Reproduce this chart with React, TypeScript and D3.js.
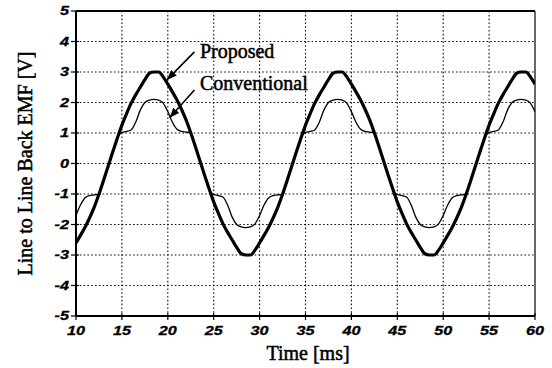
import * as d3 from "d3";
import { useEffect, useRef } from "react";

// sample times [ms], every 0.5 ms
const times = d3.range(10, 60.25, 0.5);

// Proposed back EMF [V]
const proposed = [
  -2.6, -2.35, -2.08, -1.77, -1.42, -1.01, -0.56, -0.09, 0.38, 0.83,
  1.26, 1.63, 1.97, 2.25, 2.5, 2.75, 2.96, 3.0, 3.0, 2.84,
  2.6, 2.35, 2.08, 1.77, 1.42, 1.01, 0.56, 0.09, -0.38, -0.83,
  -1.26, -1.63, -1.97, -2.25, -2.5, -2.75, -2.96, -3.0, -3.0, -2.84,
  -2.6, -2.35, -2.08, -1.77, -1.42, -1.01, -0.56, -0.09, 0.38, 0.83,
  1.26, 1.63, 1.97, 2.25, 2.5, 2.75, 2.96, 3.0, 3.0, 2.84,
  2.6, 2.35, 2.08, 1.77, 1.42, 1.01, 0.56, 0.09, -0.38, -0.83,
  -1.26, -1.63, -1.97, -2.25, -2.5, -2.75, -2.96, -3.0, -3.0, -2.84,
  -2.6, -2.35, -2.08, -1.77, -1.42, -1.01, -0.56, -0.09, 0.38, 0.83,
  1.26, 1.63, 1.97, 2.25, 2.5, 2.75, 2.96, 3.0, 3.0, 2.84,
  2.6,
];

// Conventional back EMF [V]
const conventional = [
  -1.7, -1.35, -1.12, -1.05, -1.03, -1.0, -0.56, -0.09, 0.38, 0.85,
  1.02, 1.05, 1.1, 1.35, 1.75, 2.0, 2.08, 2.1, 2.08, 1.98,
  1.7, 1.35, 1.12, 1.05, 1.03, 1.0, 0.56, 0.09, -0.38, -0.85,
  -1.02, -1.05, -1.1, -1.35, -1.75, -2.0, -2.08, -2.1, -2.08, -1.98,
  -1.7, -1.35, -1.12, -1.05, -1.03, -1.0, -0.56, -0.09, 0.38, 0.85,
  1.02, 1.05, 1.1, 1.35, 1.75, 2.0, 2.08, 2.1, 2.08, 1.98,
  1.7, 1.35, 1.12, 1.05, 1.03, 1.0, 0.56, 0.09, -0.38, -0.85,
  -1.02, -1.05, -1.1, -1.35, -1.75, -2.0, -2.08, -2.1, -2.08, -1.98,
  -1.7, -1.35, -1.12, -1.05, -1.03, -1.0, -0.56, -0.09, 0.38, 0.85,
  1.02, 1.05, 1.1, 1.35, 1.75, 2.0, 2.08, 2.1, 2.08, 1.98,
  1.7,
];

const xTicks = [10, 15, 20, 25, 30, 35, 40, 45, 50, 55, 60];
const yTicks = [-5, -4, -3, -2, -1, 0, 1, 2, 3, 4, 5];

// label text, text anchor (t, v), arrow tail (t, v), arrow tip (t, v)
const labels = ["Proposed", "Conventional"];
const labelPos = [[23.5, 3.46], [23.5, 2.41]];
const arrowFrom = [[22.9, 3.66], [22.9, 2.41]];
const arrowTo = [[19.9, 2.74], [20.2, 1.5]];

export default function App() {
  const ref = useRef<SVGSVGElement>(null);
  const W = 552, H = 368;

  useEffect(() => {
    const svg = d3.select(ref.current);
    svg.selectAll("*").remove();

    const x = d3.scaleLinear().domain([10, 60]).range([76, 535]);
    const y = d3.scaleLinear().domain([-5, 5]).range([316, 11]);

    svg.append("rect").attr("width", W).attr("height", H).attr("fill", "#fff");

    const defs = svg.append("defs");
    defs.append("clipPath").attr("id", "plot")
      .append("rect")
      .attr("x", x(10)).attr("y", y(5))
      .attr("width", x(60) - x(10)).attr("height", y(-5) - y(5));
    defs.append("marker")
      .attr("id", "head")
      .attr("viewBox", "0 0 10 8")
      .attr("refX", 10).attr("refY", 4)
      .attr("markerWidth", 10).attr("markerHeight", 8)
      .attr("markerUnits", "userSpaceOnUse")
      .attr("orient", "auto")
      .append("path").attr("d", "M0,0 L10,4 L0,8 Z").attr("fill", "#000");

    // dotted grid
    const grid = svg.append("g").attr("stroke", "#111").attr("stroke-width", 1.1)
      .attr("stroke-dasharray", "1.6,2.2");
    grid.selectAll(".gx").data(xTicks.slice(1, -1)).enter().append("line")
      .attr("x1", d => x(d)).attr("x2", d => x(d))
      .attr("y1", y(5)).attr("y2", y(-5));
    grid.selectAll(".gy").data(yTicks.slice(1, -1)).enter().append("line")
      .attr("x1", x(10)).attr("x2", x(60))
      .attr("y1", d => y(d)).attr("y2", d => y(d));

    // curves
    const line = d3.line<number>()
      .x((d, i) => x(times[i]))
      .y(d => y(d))
      .curve(d3.curveMonotoneX);
    const curves = svg.append("g").attr("clip-path", "url(#plot)").attr("fill", "none");
    curves.append("path").attr("d", line(conventional))
      .attr("stroke", "#000").attr("stroke-width", 1.3);
    curves.append("path").attr("d", line(proposed))
      .attr("stroke", "#000").attr("stroke-width", 3.2)
      .attr("stroke-linejoin", "round");

    // frame
    const frame = svg.append("g").attr("stroke", "#000");
    frame.append("line").attr("x1", x(10)).attr("x2", x(60))
      .attr("y1", y(5)).attr("y2", y(5)).attr("stroke-width", 2);
    frame.append("line").attr("x1", x(10)).attr("x2", x(60))
      .attr("y1", y(-5)).attr("y2", y(-5)).attr("stroke-width", 2);
    frame.append("line").attr("x1", x(10)).attr("x2", x(10))
      .attr("y1", y(5)).attr("y2", y(-5)).attr("stroke-width", 2);
    frame.append("line").attr("x1", x(60)).attr("x2", x(60))
      .attr("y1", y(5)).attr("y2", y(-5)).attr("stroke-width", 1.2);

    // ticks
    frame.selectAll(".ty").data(yTicks).enter().append("line")
      .attr("x1", x(10) - 5).attr("x2", x(10) + 3)
      .attr("y1", d => y(d)).attr("y2", d => y(d)).attr("stroke-width", 1.2);
    frame.selectAll(".tx").data(xTicks).enter().append("line")
      .attr("x1", d => x(d)).attr("x2", d => x(d))
      .attr("y1", y(-5) - 3).attr("y2", y(-5) + 4).attr("stroke-width", 1.2);

    // tick labels
    const tickFont = "'Liberation Sans', Arial, sans-serif";
    svg.selectAll(".ly").data(yTicks).enter().append("text")
      .attr("transform", d => `translate(${x(10) - 7},${y(d) + 4.3}) scale(1.35,1)`)
      .attr("text-anchor", "end")
      .attr("font-family", tickFont).attr("font-size", 12)
      .attr("font-weight", "bold").attr("font-style", "italic")
      .attr("stroke", "#000").attr("stroke-width", 0.3)
      .text(d => String(d));
    svg.selectAll(".lx").data(xTicks).enter().append("text")
      .attr("transform", d => `translate(${x(d)},${y(-5) + 19}) scale(1.35,1)`)
      .attr("text-anchor", "middle")
      .attr("font-family", tickFont).attr("font-size", 12)
      .attr("font-weight", "bold").attr("font-style", "italic")
      .attr("stroke", "#000").attr("stroke-width", 0.3)
      .text(d => String(d));

    // axis titles (slight stroke for the heavy print look)
    const serif = "'Liberation Serif', 'Times New Roman', serif";
    svg.append("text")
      .attr("x", 308).attr("y", 360)
      .attr("text-anchor", "middle")
      .attr("font-family", serif).attr("font-size", 20)
      .attr("stroke", "#000").attr("stroke-width", 0.5)
      .text("Time [ms]");
    svg.append("text")
      .attr("transform", `translate(32,${y(0)}) rotate(-90)`)
      .attr("text-anchor", "middle")
      .attr("font-family", serif).attr("font-size", 20)
      .attr("stroke", "#000").attr("stroke-width", 0.5)
      .text("Line to Line Back EMF [V]");

    // annotations
    labels.forEach((lab, i) => {
      svg.append("text")
        .attr("x", x(labelPos[i][0])).attr("y", y(labelPos[i][1]))
        .attr("font-family", serif).attr("font-size", 20)
        .attr("stroke", "#000").attr("stroke-width", 0.5)
        .text(lab);
      svg.append("line")
        .attr("x1", x(arrowFrom[i][0])).attr("y1", y(arrowFrom[i][1]))
        .attr("x2", x(arrowTo[i][0])).attr("y2", y(arrowTo[i][1]))
        .attr("stroke", "#000").attr("stroke-width", 1.6)
        .attr("marker-end", "url(#head)");
    });
  }, []);

  return (
    <svg ref={ref} width={W} height={H}
      style={{ position: "absolute", left: 0, top: 0 }} />
  );
}
